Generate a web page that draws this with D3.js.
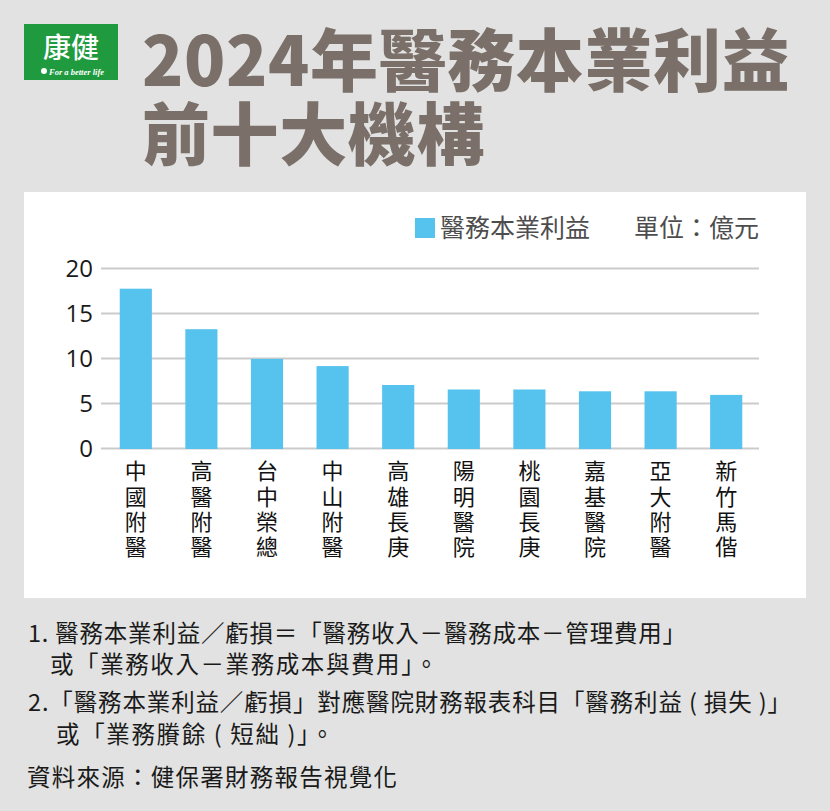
<!DOCTYPE html>
<html><head><meta charset="utf-8">
<script src="https://cdn.jsdelivr.net/npm/d3@7"></script>
<style>html,body{margin:0;padding:0;background:#e1e2e1;}svg{display:block;}</style>
</head><body>
<svg id="c" width="830" height="811"></svg>
<script>
const categories = ["中國附醫","高醫附醫","台中榮總","中山附醫","高雄長庚","陽明醫院","桃園長庚","嘉基醫院","亞大附醫","新竹馬偕"];
const values = [17.7, 13.2, 9.9, 9.1, 7.0, 6.5, 6.5, 6.3, 6.3, 5.9];
const yTicks = [0, 5, 10, 15, 20];
const seriesName = "醫務本業利益";
const unitLabel = "單位：億元";
const titleLines = ["2024年醫務本業利益", "前十大機構"];
const notes = [
  {t:"1. 醫務本業利益／虧損＝「醫務收入－醫務成本－管理費用」", x:28, y:642, w:658},
  {t:"或「業務收入－業務成本與費用」。", x:50, y:673, w:388},
  {t:"2.「醫務本業利益／虧損」對應醫院財務報表科目「醫務利益 ( 損失 )」", x:28, y:711, w:763},
  {t:"或「業務賸餘 ( 短絀 )」。", x:56, y:743, w:278},
  {t:"資料來源：健保署財務報告視覺化", x:27, y:786, w:370}
];

const svg = d3.select("#c");
const CJK = "'Noto Sans CJK TC','Noto Sans CJK SC',sans-serif";

svg.append("rect").attr("width",830).attr("height",811).attr("fill","#e1e2e1");

// logo
const logo = svg.append("g");
logo.append("rect").attr("x",24).attr("y",24).attr("width",94).attr("height",56).attr("fill","#1f9a3f");
logo.append("text").attr("x",71).attr("y",58).attr("text-anchor","middle")
  .attr("font-family",CJK).attr("font-size",28).attr("font-weight",500).attr("fill","#fff").text("康健");
logo.append("circle").attr("cx",44).attr("cy",71).attr("r",3).attr("fill","#fff");
logo.append("text").attr("x",49).attr("y",75).attr("font-family","'Liberation Serif',serif")
  .attr("font-style","italic").attr("font-weight","bold").attr("font-size",8.5).attr("fill","#fff").text("For a better life");

// title (single text element, two lines)
const title = svg.append("text").attr("font-family",CJK).attr("font-weight",900).attr("font-size",68)
  .attr("letter-spacing",0.6).attr("fill","#7a7069");
title.selectAll("tspan").data(titleLines).join("tspan")
  .attr("x",142).attr("y",(d,i)=>i===0?86:160).text(d=>d);

// panel
svg.append("rect").attr("x",24).attr("y",192).attr("width",782).attr("height",406).attr("fill","#fff");

const x = d3.scaleBand().domain(categories).range([103,759]).paddingInner(0.51).paddingOuter(0.255);
const y = d3.scaleLinear().domain([0,20]).range([448,268]);

// grid
const grid = svg.append("g").attr("transform","translate(101,0)")
  .call(d3.axisLeft(y).tickValues(yTicks).tickSize(-658).tickFormat(""));
grid.select(".domain").remove();
grid.selectAll(".tick line").attr("stroke","#cbcbcb").attr("stroke-width",2.2);

// y tick labels
const yax = svg.append("g").attr("transform","translate(93,0)")
  .call(d3.axisLeft(y).tickValues(yTicks).tickSize(0).tickPadding(0));
yax.select(".domain").remove();
yax.selectAll("text").attr("font-family","'Open Sans',sans-serif").attr("font-size",24)
  .attr("fill","#1a1a1a").attr("dy","0.36em");

// bars
svg.selectAll("rect.bar").data(values).join("rect").attr("class","bar")
  .attr("x",(d,i)=>x(categories[i])).attr("width",x.bandwidth())
  .attr("y",d=>y(d)).attr("height",d=>y(0)-y(d)+1).attr("fill","#56c2ee");

// x labels, vertical writing
svg.append("g").selectAll("text").data(categories).join("text")
  .attr("writing-mode","vertical-rl").style("writing-mode","vertical-rl")
  .attr("font-family",CJK).attr("font-size",22).attr("letter-spacing",3.3).attr("fill","#111")
  .attr("x",d=>x(d)+x.bandwidth()/2).attr("y",460).text(d=>d);

// legend
svg.append("rect").attr("x",415).attr("y",218).attr("width",20).attr("height",20).attr("fill","#56c2ee");
svg.append("text").attr("x",440).attr("y",237).attr("font-family",CJK).attr("font-size",25)
  .attr("fill","#4d4d4d").text(seriesName);
svg.append("text").attr("x",759).attr("y",237).attr("text-anchor","end").attr("font-family",CJK).attr("font-size",25)
  .attr("fill","#4d4d4d").text(unitLabel);

// notes
svg.selectAll("text.note").data(notes).join("text").attr("class","note")
  .attr("x",d=>d.x).attr("y",d=>d.y).attr("font-family",CJK).attr("font-size",23.5)
  .attr("textLength",d=>d.w).attr("lengthAdjust","spacing")
  .attr("fill","#1a1a1a").text(d=>d.t);
</script>
</body></html>
